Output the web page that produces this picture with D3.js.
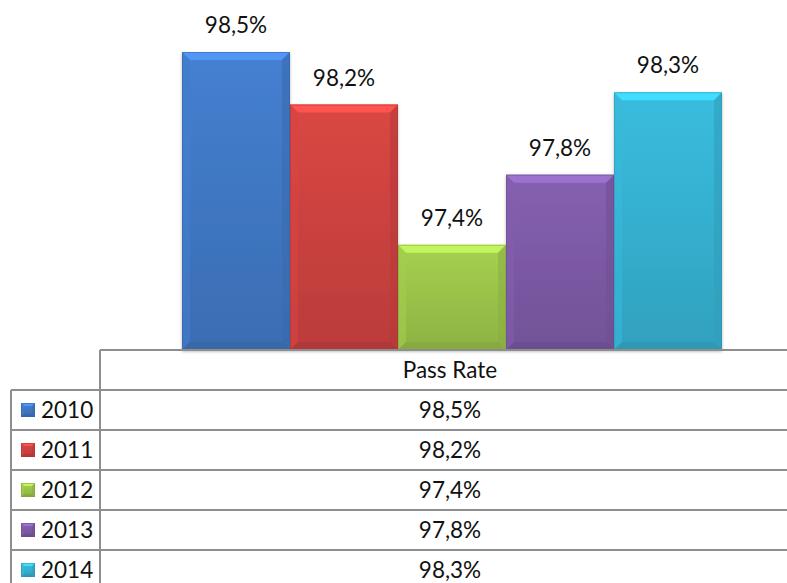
<!DOCTYPE html>
<html>
<head>
<meta charset="utf-8">
<script src="https://cdn.jsdelivr.net/npm/d3@7"></script>
<style>
  body { margin: 0; background: #fff; }
  svg { display: block; font-family: Lato, "Open Sans", sans-serif; }
</style>
</head>
<body>
<svg id="chart"></svg>
<script>
// data
const years = ["2010", "2011", "2012", "2013", "2014"];
const passRate = [98.5, 98.2, 97.4, 97.8, 98.27];
const seriesName = "Pass Rate";
const palette = ["#4179c6", "#cf4340", "#9dc64b", "#7f5ba8", "#36b3d3"];

const svgWidth = 787, svgHeight = 583;
const fontSize = "22.5px";
const svg = d3.select("#chart").attr("width", svgWidth).attr("height", svgHeight);

const fmt = v => d3.format(".1f")(v).replace(".", ",") + "%";

// chart area
const baseline = 350;
const x = d3.scaleBand().domain(years).range([182, 722]).padding(0);
const y = d3.scaleLinear().domain([96.8, 98.5]).range([baseline, 52]);

const defs = svg.append("defs");
palette.forEach((c, i) => {
  const g = defs.append("linearGradient").attr("id", "grad" + i)
    .attr("x1", 0).attr("y1", 0).attr("x2", 0).attr("y2", 1);
  g.append("stop").attr("offset", "0%").attr("stop-color", d3.color(c).brighter(0.15));
  g.append("stop").attr("offset", "100%").attr("stop-color", d3.color(c).darker(0.3));
});
const shadow = defs.append("filter").attr("id", "shadow")
  .attr("x", "-10%").attr("y", "-10%").attr("width", "120%").attr("height", "120%");
shadow.append("feDropShadow").attr("dx", 0).attr("dy", 1.5).attr("stdDeviation", 1.5)
  .attr("flood-color", "#000").attr("flood-opacity", 0.3);

// bevelled bar
function bevel(g, x0, x1, y0, y1, c, id, b) {
  g.append("rect").attr("x", x0).attr("y", y0).attr("width", x1 - x0).attr("height", y1 - y0)
    .attr("fill", `url(#${id})`);
  const pts = p => p.map(q => q.join(",")).join(" ");
  g.append("polygon").attr("points", pts([[x0, y0], [x1, y0], [x1 - b, y0 + b], [x0 + b, y0 + b]]))
    .attr("fill", d3.color(c).brighter(0.6));
  g.append("polygon").attr("points", pts([[x0, y0], [x0 + b, y0 + b], [x0 + b, y1 - b], [x0, y1]]))
    .attr("fill", d3.color(c).brighter(0.1)).attr("opacity", 0.6);
  g.append("polygon").attr("points", pts([[x1, y0], [x1 - b, y0 + b], [x1 - b, y1 - b], [x1, y1]]))
    .attr("fill", d3.color(c).darker(0.35)).attr("opacity", 0.6);
  g.append("polygon").attr("points", pts([[x0, y1], [x0 + b, y1 - b], [x1 - b, y1 - b], [x1, y1]]))
    .attr("fill", d3.color(c).darker(0.5)).attr("opacity", 0.7);
  g.append("rect").attr("x", x0 + 0.5).attr("y", y0 + 0.5).attr("width", x1 - x0 - 1).attr("height", y1 - y0 - 1)
    .attr("fill", "none").attr("stroke", d3.color(c).darker(0.6)).attr("stroke-opacity", 0.5);
}

const bars = svg.append("g").attr("filter", "url(#shadow)");
years.forEach((yr, i) => {
  bevel(bars.append("g"), x(yr), x(yr) + x.bandwidth(), y(passRate[i]), baseline, palette[i], "grad" + i, 8);
});

svg.append("g").selectAll("text").data(years).join("text")
  .attr("x", d => x(d) + x.bandwidth() / 2)
  .attr("y", (d, i) => y(passRate[i]) - 19)
  .attr("text-anchor", "middle")
  .style("font-size", fontSize)
  .attr("fill", "#111")
  .text((d, i) => fmt(passRate[i]));

// data table
const tableLeft = 11, splitX = 100, tableRight = 800;
const headTop = 350, rowH = 40;
const rowY = d3.scaleBand().domain(years).range([headTop + rowH, headTop + rowH * 6]).padding(0);
const lineColor = "#8e8e8e";
const grid = svg.append("g").attr("stroke", lineColor).attr("stroke-width", 2);

grid.append("line").attr("x1", splitX).attr("x2", tableRight).attr("y1", headTop).attr("y2", headTop);
grid.append("line").attr("x1", splitX).attr("x2", splitX).attr("y1", headTop).attr("y2", headTop + rowH * 6);
grid.append("line").attr("x1", tableLeft).attr("x2", tableLeft).attr("y1", headTop + rowH).attr("y2", headTop + rowH * 6);
grid.selectAll(".row").data(years).join("line")
  .attr("x1", tableLeft).attr("x2", tableRight)
  .attr("y1", d => rowY(d)).attr("y2", d => rowY(d));

const valueX = (splitX + tableRight) / 2;
svg.append("text").attr("x", valueX).attr("y", headTop + rowH / 2 + 8)
  .attr("text-anchor", "middle").style("font-size", fontSize).attr("fill", "#111")
  .text(seriesName);

const rows = svg.append("g").selectAll("g").data(years).join("g")
  .attr("transform", d => `translate(0,${rowY(d)})`);

rows.each(function (d, i) {
  const g = d3.select(this);
  const key = g.append("g");
  bevel(key, 21, 35, 13, 27, palette[i], "grad" + i, 3);
  g.append("text").attr("x", 41).attr("y", rowH / 2 + 8)
    .style("font-size", fontSize).attr("fill", "#111").text(d);
  g.append("text").attr("x", valueX).attr("y", rowH / 2 + 8)
    .attr("text-anchor", "middle").style("font-size", fontSize).attr("fill", "#111")
    .text(fmt(passRate[i]));
});
</script>
</body>
</html>
